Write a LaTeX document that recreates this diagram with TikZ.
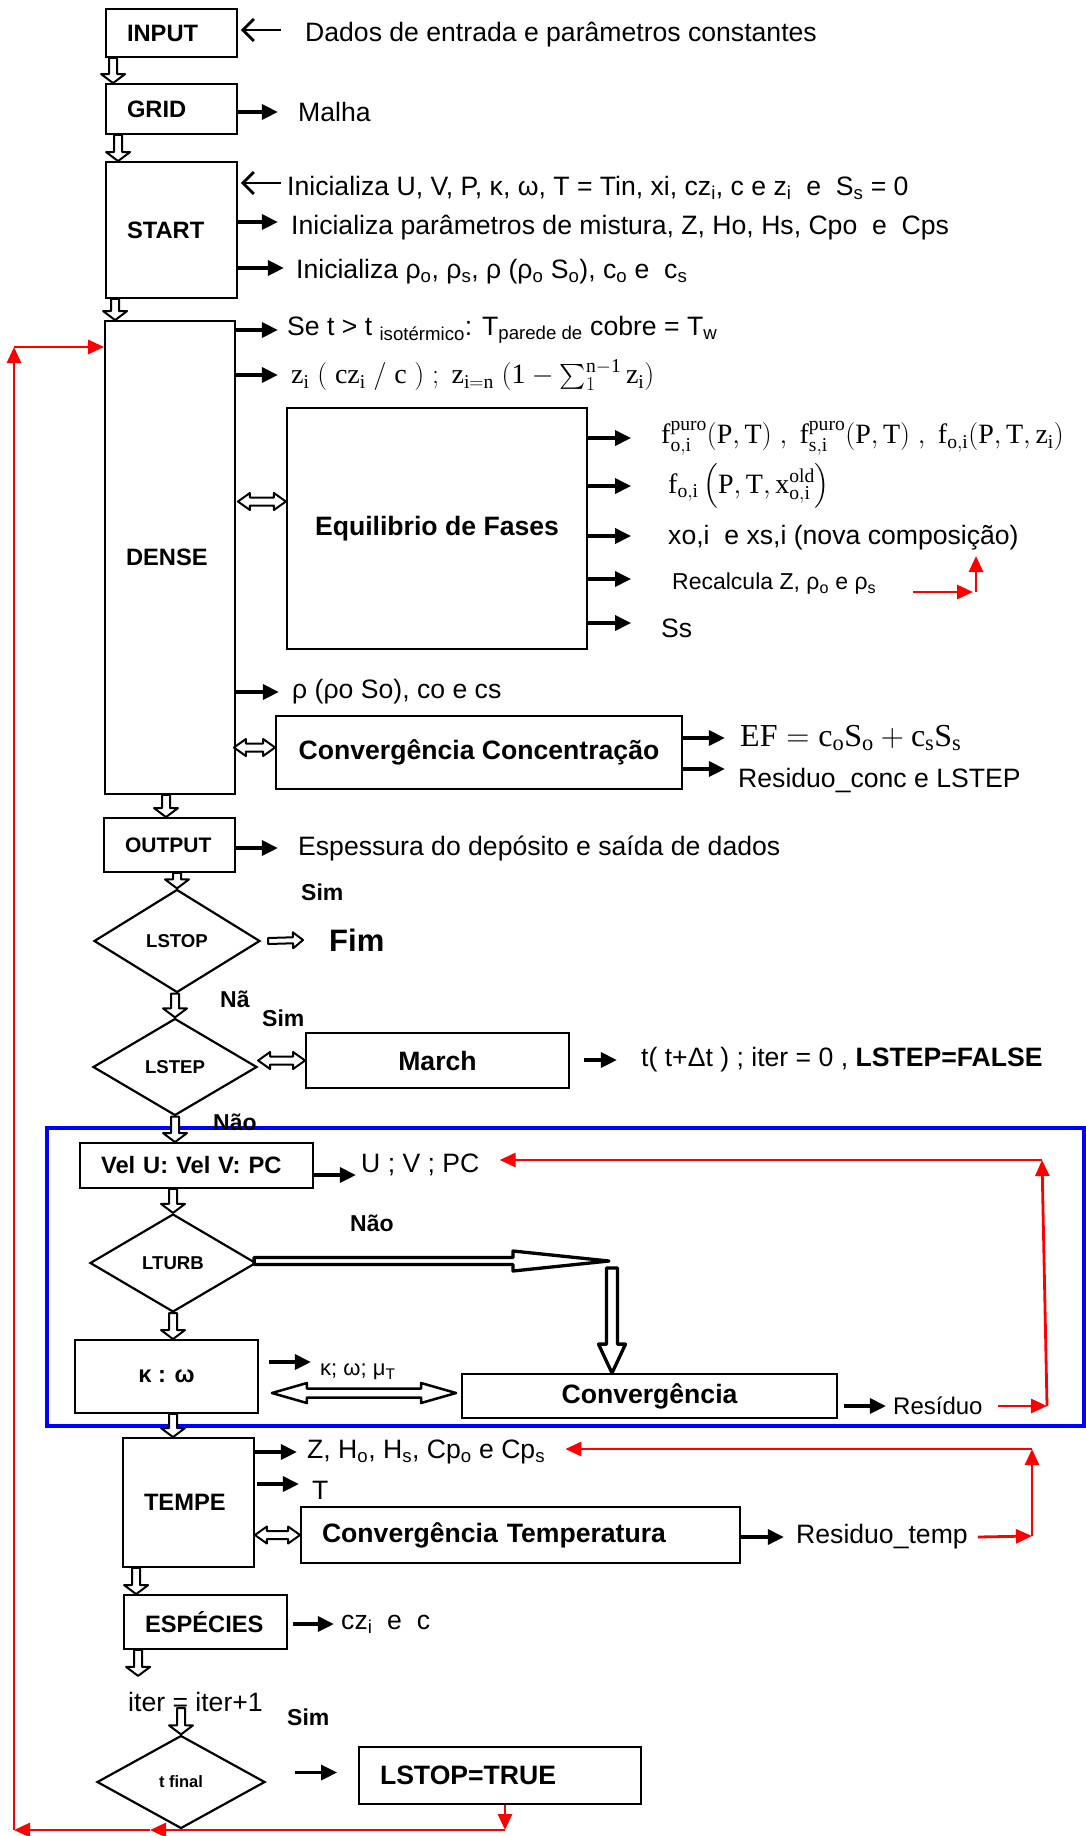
\documentclass[tikz,border=0pt]{standalone}
\usepackage{fix-cm}
\usepackage{exscale}
\usepackage{fontspec}
\setmainfont{Liberation Sans}
\setmathrm{Liberation Serif}
\usetikzlibrary{arrows.meta,positioning,calc,shapes.geometric}
\definecolor{cLoop}{HTML}{FF0000}
\definecolor{cTurb}{HTML}{0000FF}
\tikzset{
  box/.style ={draw, line width=1.8pt, inner xsep=21pt, inner ysep=0pt, align=left, font=\bfseries\fontsize{23.7}{28}\selectfont},
  cbox/.style={draw, line width=1.8pt, inner sep=0pt, align=center, font=\bfseries\fontsize{26.6}{31}\selectfont},
  decision/.style={draw, diamond, line width=2.2pt, inner sep=0pt, font=\bfseries\fontsize{18.6}{22}\selectfont},
  txt/.style ={anchor=west, inner sep=0pt, font=\fontsize{26.6}{31}\selectfont},
  mtxt/.style={anchor=west, inner sep=0pt, font=\fontsize{28}{32}\selectfont},
  ans/.style ={anchor=west, inner sep=0pt, font=\bfseries\fontsize{23}{27}\selectfont},
  arrow/.style={-{Triangle[length=16pt,width=15pt]}, line width=3.2pt},
  inarrow/.style={-{Straight Barb[length=11pt,width=22pt]}, line width=2.8pt},
  feedback/.style={-{Triangle[length=16pt,width=14pt]}, line width=2.8pt, draw=cLoop},
  blk/.style n args={3}{fill=white, draw=black, line join=round, to path={
    let \p1=(\tikztostart), \p2=(\tikztotarget), \p3=($(\p2)!#3!(\p1)$) in
    ($(\p1)!#1!90:(\p2)$) -- ($(\p3)!#1!-90:(\p1)$) -- ($(\p3)!#2!-90:(\p1)$) -- (\p2)
    -- ($(\p3)!#2!90:(\p1)$) -- ($(\p3)!#1!90:(\p1)$) -- ($(\p1)!#1!-90:(\p2)$) -- cycle}},
  dblk/.style n args={3}{fill=white, draw=black, line join=round, to path={
    let \p1=(\tikztostart), \p2=(\tikztotarget), \p3=($(\p2)!#3!(\p1)$), \p4=($(\p1)!#3!(\p2)$) in
    (\p1) -- ($(\p4)!#2!90:(\p2)$) -- ($(\p4)!#1!90:(\p2)$) -- ($(\p3)!#1!-90:(\p1)$) -- ($(\p3)!#2!-90:(\p1)$) -- (\p2)
    -- ($(\p3)!#2!90:(\p1)$) -- ($(\p3)!#1!90:(\p1)$) -- ($(\p4)!#1!-90:(\p2)$) -- ($(\p4)!#2!-90:(\p2)$) -- cycle}},
  flow/.style={blk={4pt}{12pt}{9pt}, line width=2pt},
  flowsm/.style={blk={3pt}{8pt}{10pt}, line width=2pt},
  twoway/.style={dblk={4pt}{8.5pt}{12pt}, line width=2pt},
}

\begin{document}
\begin{tikzpicture}[x=1pt, y=-1pt]
  \useasboundingbox (0,0) rectangle (1086,1836);
  \draw[cTurb, line width=4.3pt] (47,1128) rectangle (1084,1426);

  \node[box, text width=89pt, minimum height=48pt] (input) at (171.5,33) {INPUT};
  \node[box, text width=89pt, minimum height=50pt] (grid) at (171.5,109) {GRID};
  \node[box, text width=89pt, minimum height=136pt] (start) at (171.5,230) {START};
  \node[box, text width=88pt, minimum height=473pt] (dense) at (170,557.5) {DENSE};
  \node[cbox, line width=2.2pt, minimum width=300pt, minimum height=241pt] (equil) at (437,528.5) {Equilibrio de Fases};
  \node[cbox, minimum width=406pt, minimum height=73pt] (conc) at (479,752.5) {Convergência Concentração};
  \node[box, text width=89pt, minimum height=54pt, font=\bfseries\fontsize{21}{25}\selectfont] (output) at (169.5,845) {OUTPUT};
  \node[decision, minimum width=166pt, minimum height=103pt] (lstop) at (177,941) {LSTOP};
  \node[decision, minimum width=164pt, minimum height=97pt] (lstep) at (175,1067) {LSTEP};
  \node[cbox, minimum width=263pt, minimum height=55pt] (march) at (437.5,1060.5) {March};
  \node[box, text width=191pt, minimum height=45pt] (vel) at (196.5,1165.5) {Vel U: Vel V: PC};
  \node[decision, minimum width=166pt, minimum height=98pt] (lturb) at (173,1263) {LTURB};
  \node[cbox, minimum width=183pt, minimum height=73pt, font=\bfseries\fontsize{23.7}{28}\selectfont] (kw) at (166.5,1376.5) {κ : ω};
  \node[cbox, minimum width=375pt, minimum height=44pt] (conv) at (649.5,1396) {Convergência};
  \node[box, text width=89pt, minimum height=129pt] (tempe) at (188.5,1502.5) {TEMPE};
  \node[box, text width=397pt, minimum height=56pt, font=\bfseries\fontsize{26.6}{31}\selectfont] (tconv) at (520.5,1535) {Convergência Temperatura};
  \node[box, text width=121pt, minimum height=54pt] (esp) at (205.5,1622) {ESPÉCIES};
  \node[txt] (iter) at (128,1702) {iter = iter+1};
  \node[decision, minimum width=168pt, minimum height=93pt, font=\bfseries\fontsize{16.5}{20}\selectfont] (tfinal) at (181,1782) {t final};
  \node[box, text width=240pt, minimum height=57pt, font=\bfseries\fontsize{26.6}{31}\selectfont] (lstoptrue) at (500,1775.5) {LSTOP=TRUE};

  \node[txt] (dados) at (305,35) {Dados de entrada e parâmetros constantes};
  \node[txt] (malha) at (298,112) {Malha};
  \node[txt] (ini1) at (287,188) {Inicializa U, V, P, κ, ω, T = Tin, xi, cz\textsubscript{i}, c e z\textsubscript{i}\ \ e\ \ S\textsubscript{s} = 0};
  \node[txt] (ini2) at (291,228) {Inicializa parâmetros de mistura, Z, Ho, Hs, Cpo\ \ e\ \ Cps};
  \node[txt] (ini3) at (296,272) {Inicializa ρ\textsubscript{o}, ρ\textsubscript{s}, ρ (ρ\textsubscript{o} S\textsubscript{o}), c\textsubscript{o} e\ \ c\textsubscript{s}};
  \node[txt] (iso) at (287,330) {Se t > t \textsubscript{isotérmico}: T\textsubscript{parede de} cobre = T\textsubscript{w}};
  \node[mtxt] (zfrac) at (291,375) {$\mathrm{z_i\ (\ cz_i\ /\ c\ )\ ;\ z_{i=n}\ (1}-\sum\nolimits_1^{\mathrm{n-1}}\mathrm{z_i)}$};
  \node[mtxt] (fpuro) at (661,438) {$\mathrm{f^{puro}_{o,i}(P,T)\ ,\ f^{puro}_{s,i}(P,T)\ ,\ f_{o,i}(P,T,z_i)}$};
  \node[mtxt] (fold) at (668,486) {$\mathrm{f_{o,i}}\left(\mathrm{P,T,x^{old}_{o,i}}\right)$};
  \node[txt] (xnova) at (668,538) {xo,i\ \ e xs,i (nova composição)};
  \node[txt, font=\fontsize{23}{27}\selectfont] (recalc) at (672,584) {Recalcula Z, ρ\textsubscript{o} e ρ\textsubscript{s}};
  \node[txt] (ssat) at (661,628) {Ss};
  \node[txt] (rho) at (292,692) {ρ (ρo So), co e cs};
  \node[txt, font=\fontsize{32}{36}\selectfont] (ef) at (740,738) {$\mathrm{EF = c_oS_o + c_sS_s}$};
  \node[txt] (resconc) at (738,780) {Residuo\_conc e LSTEP};
  \node[txt] (espess) at (298,848) {Espessura do depósito e saída de dados};
  \node[ans] (sim1) at (301,892) {Sim};
  \node[ans, font=\bfseries\fontsize{31}{36}\selectfont] (fim) at (329,940) {Fim};
  \node[ans] (nao1) at (220,999) {Nã};
  \node[ans] (sim2) at (262,1018) {Sim};
  \node[txt] (tdt) at (641,1060) {t( t+Δt ) ; iter = 0 , \textbf{LSTEP=FALSE}};
  \node[ans] (nao2) at (213,1122) {Não};
  \node[txt] (uvpc) at (361,1165) {U ; V ; PC};
  \node[ans] (nao3) at (350,1223) {Não};
  \node[txt, font=\fontsize{22}{26}\selectfont] (kwmu) at (320,1372) {κ; ω; μ\textsubscript{T}};
  \node[txt, font=\fontsize{24}{28}\selectfont] (resid) at (893,1406) {Resíduo};
  \node[txt] (zh) at (307,1452) {Z, H\textsubscript{o}, H\textsubscript{s}, Cp\textsubscript{o} e Cp\textsubscript{s}};
  \node[txt] (tt) at (312,1490) {T};
  \node[txt] (restemp) at (796,1537) {Residuo\_temp};
  \node[txt] (czc) at (341,1624) {cz\textsubscript{i}\ \ e\ \ c};
  \node[ans] (sim3) at (287,1717) {Sim};

  \draw[inarrow] ($(input.east |- dados.west)+(43,-5)$) -- ++(-40,0);
  \draw[arrow] (grid.east |- malha.west) -- ++(40,0);
  \draw[inarrow] ($(start.east |- ini1.west)+(43,-5)$) -- ++(-40,0);
  \draw[arrow] ($(start.east |- ini2.west)+(0,-6)$) -- ++(40,0);
  \draw[arrow] ($(start.east |- ini3.west)+(0,-4)$) -- ++(46,0);
  \draw[arrow] (dense.east |- iso.west) -- ++(42,0);
  \draw[arrow] (dense.east |- zfrac.west) -- ++(42,0);
  \draw[arrow] (equil.east |- fpuro.west) -- ++(43,0);
  \draw[arrow] (equil.east |- fold.west) -- ++(43,0);
  \draw[arrow] ($(equil.east |- xnova.west)+(0,-2)$) -- ++(43,0);
  \draw[arrow] ($(equil.east |- recalc.west)+(0,-5)$) -- ++(43,0);
  \draw[arrow] ($(equil.east |- ssat.west)+(0,-5)$) -- ++(43,0);
  \draw[arrow] (dense.east |- rho.west) -- ++(43,0);
  \draw[arrow] (conc.east |- ef.west) -- ++(42,0);
  \draw[arrow] ($(conc.east |- resconc.west)+(0,-11)$) -- ++(42,0);
  \draw[arrow] (output.east |- espess.west) -- ++(42,0);
  \draw[arrow] ($(march.east |- tdt.west)+(14,0)$) -- ++(33,0);
  \draw[arrow] ($(vel.east |- uvpc.west)+(0,10)$) -- ++(42,0);
  \draw[arrow] ($(kw.east |- kwmu.west)+(10,-10)$) -- ++(42,0);
  \draw[arrow] ($(conv.east |- resid.west)+(6,0)$) -- ++(42,0);
  \draw[arrow] (tempe.east |- zh.west) -- ++(42,0);
  \draw[arrow] ($(tempe.east |- tt.west)+(2,-6)$) -- ++(42,0);
  \draw[arrow] (tconv.east |- restemp.west) -- ++(43,0);
  \draw[arrow] ($(esp.east |- czc.west)+(5,0)$) -- ++(41,0);
  \draw[arrow] ($(tfinal.east |- lstoptrue.west)+(29,-3)$) -- ++(42,0);

  \draw[flow] ($(input.south west)+(8,0)$) to ($(grid.north west)+(8,0)$);
  \draw[flow] ($(grid.south west)+(13,0)$) to ($(start.north west)+(13,0)$);
  \draw[flow] ($(start.south west)+(10,0)$) to ($(dense.north west)+(11,0)$);
  \draw[flow] ($(dense.south)+(-4,0)$) to ($(dense.south |- output.north)+(-4,0)$);
  \draw[flow] (lstop.north |- output.south) to (lstop.north);
  \draw[flow] (lstep.north |- lstop.south) to (lstep.north);
  \draw[flow] (lstep.south) to (lstep.south |- vel.north);
  \draw[flow] (lturb.north |- vel.south) to (lturb.north);
  \draw[flow] (lturb.south) to (lturb.south |- kw.north);
  \draw[flow] (lturb.south |- kw.south) to (lturb.south |- tempe.north);
  \draw[flow] ($(tempe.south west)+(14,0)$) to ($(tempe.south west |- esp.north)+(14,0)$);
  \draw[flow] ($(esp.south west)+(15,0)$) to ($(esp.south west)+(15,26)$);
  \draw[flow] ($(tfinal.north |- iter.center)+(0,6)$) to (tfinal.north);
  \draw[flowsm] ($(lstop.east)+(7,0)$) to ($(fim.west)+(-26,0)$);

  \draw[twoway] ($(dense.east |- equil.west)+(2,-27)$) to ($(equil.west)+(0,-27)$);
  \draw[twoway] ($(dense.east |- conc.west)+(-2,-5)$) to ($(conc.west)+(0,-5)$);
  \draw[twoway] (lstep.east |- march.west) to (march.west);
  \draw[twoway] (tempe.east |- tconv.west) to (tconv.west);
  \draw[dblk={4.5pt}{10pt}{35pt}, line width=2.5pt] ($(kw.east |- conv.west)+(13,-3)$) to ($(conv.west)+(-5,-3)$);

  \coordinate (lt0) at (609,1261);
  \coordinate (lt1) at (612,1268);
  \draw[blk={3.5pt}{10pt}{96pt}, line width=3.3pt] ($(lturb.east)+(-3,-2)$) to (lt0);
  \draw[blk={5.5pt}{13.5pt}{29pt}, line width=3.3pt] (lt1) to (lt1 |- conv.north);

  \coordinate (rh) at (913,592);
  \coordinate (rc) at (976,592);
  \coordinate (ru) at (976,556);
  \draw[feedback] (rh) -- ($(rc)+(-3,0)$);
  \draw[feedback] (rc) -- (ru);

  \coordinate (vr) at (1047,1406);
  \coordinate (vt) at (1042,1160);
  \draw[feedback] ($(resid.east)+(15,0)$) -- (vr);
  \draw[feedback] (vr) -- (vt);
  \draw[feedback] (vt) -- ($(vt -| uvpc.east)+(20,0)$);

  \coordinate (tr) at (1032,1536);
  \coordinate (tu) at (1032,1449);
  \draw[feedback] ($(restemp.east)+(10,0)$) -- (tr);
  \draw[feedback] (tr) -- (tu);
  \draw[feedback] (tu) -- ($(tu -| zh.east)+(20,0)$);

  \coordinate (oc) at (505,1830);
  \coordinate (om) at (150,1830);
  \coordinate (ol) at (14,1830);
  \coordinate (ot) at (14,347);
  \draw[feedback] ($(lstoptrue.south)+(5,0)$) -- (oc);
  \draw[feedback] (oc) -- (om);
  \draw[feedback] (om) -- (ol);
  \draw[feedback] (ol) -- (ot);
  \draw[feedback] (ot) -- (dense.west |- ot);
\end{tikzpicture}
\end{document}
